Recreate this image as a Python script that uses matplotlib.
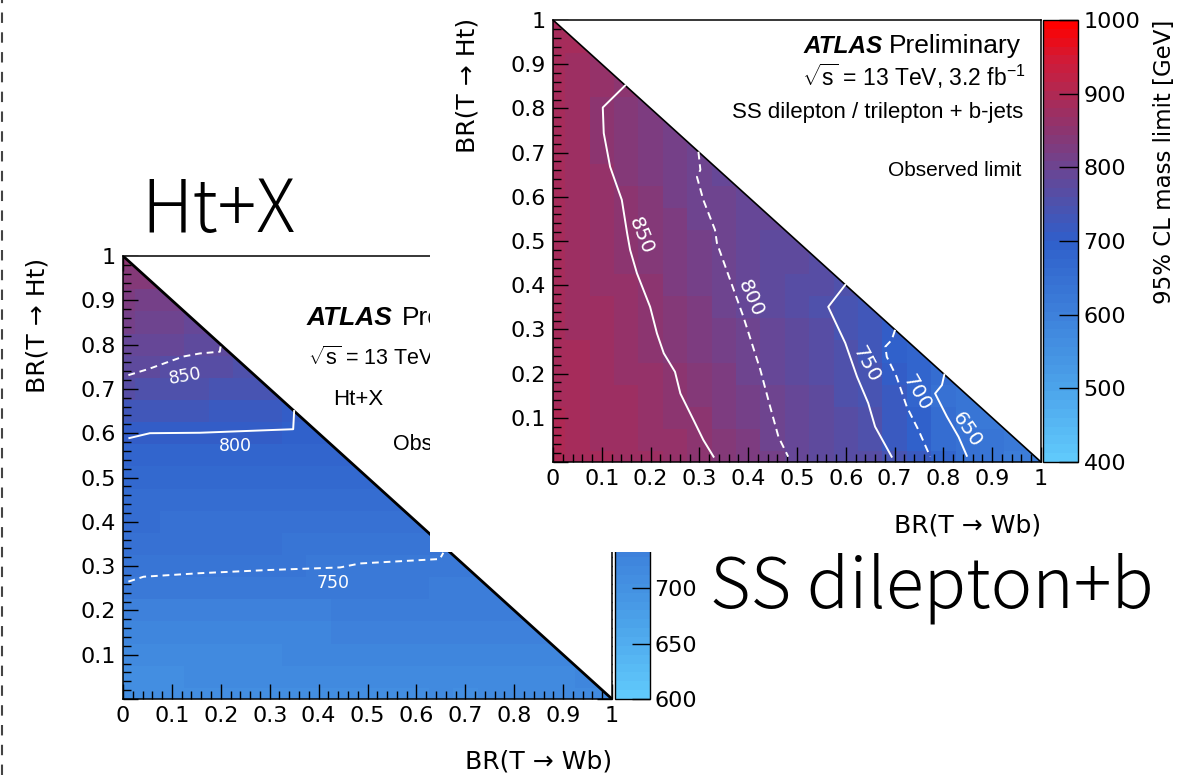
import numpy as np
import matplotlib
matplotlib.use("Agg")
import matplotlib.pyplot as plt
from matplotlib.colors import LinearSegmentedColormap, Normalize
from matplotlib.cm import ScalarMappable
from matplotlib.lines import Line2D
from matplotlib.ticker import FixedLocator
from matplotlib.transforms import Bbox

plt.rcParams['font.family'] = ['Liberation Sans', 'DejaVu Sans']
plt.rcParams['mathtext.fontset'] = 'custom'
plt.rcParams['mathtext.rm'] = 'Liberation Sans'
plt.rcParams['mathtext.it'] = 'Liberation Sans:italic'
plt.rcParams['mathtext.bf'] = 'Liberation Sans:bold'

# ------------------------------------------------------------------ data
bin_centers = [0.0, 0.05, 0.1, 0.15, 0.2, 0.25, 0.3, 0.35, 0.4, 0.45, 0.5,
               0.55, 0.6, 0.65, 0.7, 0.75, 0.8, 0.85, 0.9, 0.95, 1.0]
major_ticks = [0.0, 0.1, 0.2, 0.3, 0.4, 0.5, 0.6, 0.7, 0.8, 0.9, 1.0]
x_tick_labels = ['0', '0.1', '0.2', '0.3', '0.4', '0.5', '0.6', '0.7', '0.8', '0.9', '1']
y_tick_labels = ['', '0.1', '0.2', '0.3', '0.4', '0.5', '0.6', '0.7', '0.8', '0.9', '1']

# Ht+X observed limit [GeV]; one row per BR(T->Ht) bin, columns = BR(T->Wb) bins
ht_rows = [
    [704, 706, 705, 707, 706, 708, 707, 709, 708, 710, 709, 711, 710, 712, 711, 713, 712, 714, 713, 714, 715],
    [710, 711, 711, 712, 712, 713, 713, 714, 714, 715, 715, 716, 716, 717, 717, 718, 718, 719, 719, 720],
    [716, 717, 717, 718, 718, 719, 719, 720, 720, 721, 721, 722, 722, 723, 723, 724, 724, 725, 725],
    [723, 724, 724, 725, 725, 726, 726, 727, 727, 728, 728, 729, 729, 730, 730, 731, 731, 732],
    [731, 732, 732, 733, 733, 734, 734, 735, 735, 736, 736, 737, 737, 738, 738, 739, 739],
    [745, 745, 745, 745, 745, 745, 745, 745, 745, 745, 744, 744, 744, 743, 743, 743],
    [756, 755, 754, 754, 753, 753, 752, 752, 751, 751, 750, 749, 748, 748, 747],
    [762, 762, 761, 761, 760, 760, 760, 759, 759, 758, 758, 757, 757, 756],
    [768, 768, 767, 767, 767, 766, 766, 766, 765, 765, 764, 764, 764],
    [774, 774, 773, 773, 773, 772, 772, 772, 771, 771, 770, 770],
    [780, 780, 779, 779, 779, 778, 778, 778, 777, 777, 776],
    [788, 787, 787, 786, 786, 786, 785, 785, 784, 784],
    [801, 802, 802, 802, 802, 802, 801, 798, 795],
    [822, 820, 818, 816, 814, 812, 810, 806],
    [840, 838, 836, 834, 832, 830, 828],
    [852, 849, 846, 843, 841, 839],
    [862, 859, 856, 853, 851],
    [872, 869, 866, 863],
    [882, 879, 876],
    [892, 889],
    [900],
]

# SS dilepton / trilepton + b-jets observed limit [GeV]
ss_rows = [
    [895, 888, 881, 875, 868, 861, 854, 843, 827, 810, 795, 783, 771, 760, 744, 712, 681, 650, 637, 615, 605],
    [893, 886, 879, 872, 865, 858, 851, 836, 820, 803, 790, 778, 765, 753, 721, 691, 662, 644, 632, 620],
    [892, 885, 877, 870, 862, 855, 845, 830, 814, 799, 787, 775, 763, 751, 721, 690, 654, 638, 625],
    [891, 883, 875, 868, 860, 852, 838, 824, 809, 796, 784, 772, 759, 744, 712, 681, 646, 635],
    [890, 882, 874, 866, 858, 850, 836, 821, 806, 794, 782, 769, 756, 741, 706, 679, 652],
    [889, 880, 872, 863, 854, 843, 830, 816, 802, 790, 778, 765, 752, 727, 693, 680],
    [888, 879, 870, 861, 852, 840, 826, 812, 797, 785, 773, 761, 748, 724, 700],
    [887, 878, 868, 859, 849, 835, 821, 807, 794, 781, 768, 755, 740, 725],
    [886, 876, 866, 856, 844, 829, 815, 801, 790, 780, 770, 760, 750],
    [886, 875, 864, 853, 839, 825, 811, 798, 789, 781, 772, 765],
    [886, 874, 862, 850, 837, 823, 809, 796, 788, 781, 775],
    [886, 874, 861, 848, 834, 820, 806, 797, 791, 785],
    [887, 874, 861, 847, 832, 818, 803, 797, 790],
    [887, 872, 857, 843, 829, 814, 800, 795],
    [887, 870, 853, 840, 826, 813, 800],
    [888, 870, 849, 837, 825, 815],
    [888, 869, 849, 840, 830],
    [889, 876, 863, 850],
    [890, 878, 866],
    [890, 880],
    [890],
]

# contour lines: (BR(T->Wb), BR(T->Ht)) points
ht_c850_x = [0.011, 0.055, 0.123, 0.157, 0.198, 0.200]
ht_c850_y = [0.731, 0.746, 0.773, 0.780, 0.784, 0.800]
ht_c800_x = [0.013, 0.055, 0.157, 0.348, 0.350]
ht_c800_y = [0.589, 0.600, 0.601, 0.609, 0.650]
ht_c750_x = [0.011, 0.042, 0.157, 0.294, 0.444, 0.485, 0.648, 0.655]
ht_c750_y = [0.265, 0.276, 0.284, 0.291, 0.297, 0.306, 0.316, 0.330]

ss_c850_x = [0.148, 0.102, 0.104, 0.117, 0.141, 0.152, 0.158, 0.172, 0.199, 0.213, 0.227, 0.250, 0.261, 0.288, 0.308, 0.329]
ss_c850_y = [0.852, 0.802, 0.744, 0.668, 0.593, 0.517, 0.480, 0.427, 0.351, 0.291, 0.246, 0.204, 0.155, 0.095, 0.050, 0.012]
ss_c800_x = [0.298, 0.302, 0.295, 0.308, 0.332, 0.336, 0.363, 0.390, 0.425, 0.445, 0.462, 0.482]
ss_c800_y = [0.702, 0.661, 0.645, 0.593, 0.525, 0.495, 0.412, 0.329, 0.208, 0.125, 0.057, 0.012]
ss_c750_x = [0.599, 0.564, 0.599, 0.623, 0.646, 0.660, 0.694]
ss_c750_y = [0.401, 0.351, 0.269, 0.193, 0.133, 0.080, 0.012]
ss_c700_x = [0.701, 0.694, 0.681, 0.684, 0.704, 0.725, 0.749, 0.773]
ss_c700_y = [0.299, 0.276, 0.261, 0.238, 0.193, 0.125, 0.072, 0.012]
ss_c650_x = [0.802, 0.797, 0.783, 0.807, 0.831, 0.848]
ss_c650_y = [0.198, 0.174, 0.155, 0.103, 0.057, 0.014]

# contour labels: text, x, y, rotation
ht_labels = [('850', 0.127, 0.729, 10), ('800', 0.229, 0.571, 0), ('750', 0.430, 0.262, 0)]
ss_labels = [('850', 0.180, 0.512, -68), ('800', 0.404, 0.371, -66), ('750', 0.642, 0.222, -62),
             ('700', 0.746, 0.156, -60), ('650', 0.849, 0.072, -56)]

ht_cbar_ticks = [600, 650, 700]
ss_cbar_ticks = [400, 500, 600, 700, 800, 900, 1000]

# ------------------------------------------------------------------ style
W, H = 1203, 775
fig = plt.figure(figsize=(W / 100, H / 100), dpi=100)
AXF = ['DejaVu Sans']
BIGF = ['Noto Sans CJK JP', 'DejaVu Sans']


def rect(x0, y0, x1, y1):
    return [x0 / W, 1 - y1 / H, (x1 - x0) / W, (y1 - y0) / H]


def fx(px):
    return px / W


def fy(py):
    return 1 - py / H


cmap = LinearSegmentedColormap.from_list('atlas', [
    (0.0, '#60c9fb'), (1 / 6, '#4ba2ea'), (2 / 6, '#3d80da'), (0.5, '#2f5fca'),
    (7 / 12, '#4c52ae'), (4 / 6, '#6b4592'), (0.75, '#8a3672'), (5 / 6, '#ad2a55'),
    (11 / 12, '#d01b38'), (1.0, '#ff0000')], N=50)

edges = np.array([0.0] + [c + 0.025 for c in bin_centers[:-1]] + [1.0])


def grid(rows):
    Z = np.full((len(bin_centers), len(bin_centers)), np.nan)
    for j, row in enumerate(rows):
        Z[j, :len(row)] = row
    return np.ma.masked_invalid(Z)


def panel(ax, rows, norm, contours, labels, lab_size, tick_size, all_sides, diag_lw, dash):
    ax.pcolormesh(edges, edges, grid(rows), cmap=cmap, norm=norm, shading='flat',
                  edgecolors='face', linewidth=0, antialiased=False, zorder=1)
    ax.fill([0, 1, 1], [1, 1, 0], color='white', zorder=2, lw=0)
    ax.plot([0, 1], [1, 0], color='black', lw=diag_lw, zorder=3, solid_capstyle='butt')
    for cx, cy, style in contours:
        ln, = ax.plot(cx, cy, color='white', lw=1.4, zorder=4)
        if style == 'dashed':
            ln.set_dashes(dash)
    for t, x, y, r in labels:
        ax.text(x, y, t, color='white', fontsize=lab_size, rotation=r, family=AXF,
                ha='center', va='center', zorder=5, rotation_mode='anchor')
    ax.set_xlim(0, 1)
    ax.set_ylim(0, 1)
    ax.xaxis.set_major_locator(FixedLocator(major_ticks))
    ax.yaxis.set_major_locator(FixedLocator(major_ticks))
    ax.set_xticklabels(x_tick_labels, family=AXF)
    ax.set_yticklabels(y_tick_labels, family=AXF)
    ax.xaxis.set_minor_locator(FixedLocator([i * 0.02 for i in range(51)]))
    ax.yaxis.set_minor_locator(FixedLocator([i * 0.02 for i in range(51)]))
    ax.tick_params(which='major', direction='in', length=11, width=1,
                   top=all_sides, right=all_sides, labelsize=tick_size, pad=5)
    ax.tick_params(which='minor', direction='in', length=6, width=1,
                   top=all_sides, right=all_sides)
    for s in ax.spines.values():
        s.set_linewidth(1.1)


# ---------------- left (Ht+X) panel
normL = Normalize(600, 1000)
axL = fig.add_axes(rect(123, 256, 612, 699), zorder=1)
panel(axL, ht_rows, normL,
      [(ht_c850_x, ht_c850_y, 'dashed'), (ht_c800_x, ht_c800_y, 'solid'), (ht_c750_x, ht_c750_y, 'dashed')],
      ht_labels, 12.5, 16, True, 2.0, (3.5, 2.5))

left_clip = Bbox.from_extents(0, 0, 430, H)   # the second picture hides everything right of it


def ltext(px, py, s, **kw):
    t = axL.text((px - 123) / 489, (699 - py) / 443, s, transform=axL.transAxes,
                 va='baseline', zorder=6, **kw)
    t.set_clip_box(left_clip)
    t.set_clip_on(True)


ltext(307, 325, 'ATLAS', fontsize=19, fontweight='bold', fontstyle='italic')
ltext(402, 325, 'Preliminary', fontsize=19)
ltext(308, 365, r'$\sqrt{\mathrm{s}}$ = 13 TeV, 3.2 fb$^{\mathrm{-1}}$', fontsize=15.5)
ltext(333, 405, 'Ht+X', fontsize=16)
ltext(393, 450, 'Observed limit', fontsize=15.5)

caxL = fig.add_axes(rect(615, 256, 650, 699), zorder=1)
cbL = fig.colorbar(ScalarMappable(norm=normL, cmap=cmap), cax=caxL)
cbL.set_ticks(ht_cbar_ticks)
cbL.minorticks_off()
caxL.tick_params(direction='in', length=13, width=1, labelsize=16, pad=3)
for t in caxL.get_yticklabels():
    t.set_family(AXF)
cbL.outline.set_linewidth(1)

fig.text(fx(612), fy(768), 'BR(T → Wb)', fontsize=18, family=AXF, ha='right', va='baseline')
fig.text(fx(37), fy(258), 'BR(T → Ht)', fontsize=18, family=AXF, rotation=90, ha='center', va='top')

# ---------------- white canvas of the second picture
axBox = fig.add_axes(rect(430, 0, 1203, 552), zorder=2)
axBox.set_facecolor('white')
axBox.set_xticks([])
axBox.set_yticks([])
for s in axBox.spines.values():
    s.set_visible(False)

# ---------------- right (SS dilepton) panel
normR = Normalize(400, 1000)
axR = fig.add_axes(rect(553, 20, 1041, 462), zorder=3)
panel(axR, ss_rows, normR,
      [(ss_c850_x, ss_c850_y, 'solid'), (ss_c800_x, ss_c800_y, 'dashed'), (ss_c750_x, ss_c750_y, 'solid'),
       (ss_c700_x, ss_c700_y, 'dashed'), (ss_c650_x, ss_c650_y, 'solid')],
      ss_labels, 14.5, 16, False, 1.2, (4, 2.5))

caxR = fig.add_axes(rect(1043, 20, 1078, 462), zorder=3)
cbR = fig.colorbar(ScalarMappable(norm=normR, cmap=cmap), cax=caxR)
cbR.set_ticks(ss_cbar_ticks)
cbR.minorticks_off()
caxR.tick_params(direction='in', length=14, width=1, labelsize=16, pad=4)
for t in caxR.get_yticklabels():
    t.set_family(AXF)
cbR.outline.set_linewidth(1)


def rtext(px, py, s, **kw):
    fig.text(fx(px), fy(py), s, ha='right', va='baseline', zorder=10, **kw)


rtext(883, 53, 'ATLAS', fontsize=17.5, fontweight='bold', fontstyle='italic')
rtext(1021, 53, 'Preliminary', fontsize=19)
rtext(1026, 86, r'$\sqrt{\mathrm{s}}$ = 13 TeV, 3.2 fb$^{\mathrm{-1}}$', fontsize=16.5)
rtext(1023, 118, 'SS dilepton / trilepton + b-jets', fontsize=16)
rtext(1021, 176, 'Observed limit', fontsize=15)

fig.text(fx(1041), fy(532), 'BR(T → Wb)', fontsize=18, family=AXF, ha='right', va='baseline', zorder=10)
fig.text(fx(467), fy(18), 'BR(T → Ht)', fontsize=18, family=AXF, rotation=90, ha='center', va='top', zorder=10)
fig.text(fx(1164), fy(20), '95% CL mass limit [GeV]', fontsize=16.5, family=AXF, rotation=90,
         ha='center', va='top', zorder=10)

# ---------------- slide annotations
fig.text(fx(141), fy(232), 'Ht+X', fontsize=52, family=BIGF, fontweight=300,
         va='baseline', ha='left', zorder=10)
fig.text(fx(710), fy(607), 'SS dilepton+b', fontsize=50.5, family=BIGF, fontweight=300,
         va='baseline', ha='left', zorder=10)

dash_line = Line2D([fx(1.5), fx(1.5)], [0, 1], transform=fig.transFigure, color='#444444',
                   lw=1.5, dashes=(5, 4.5), zorder=10)
fig.add_artist(dash_line)

fig.savefig('out.png', dpi=100)
